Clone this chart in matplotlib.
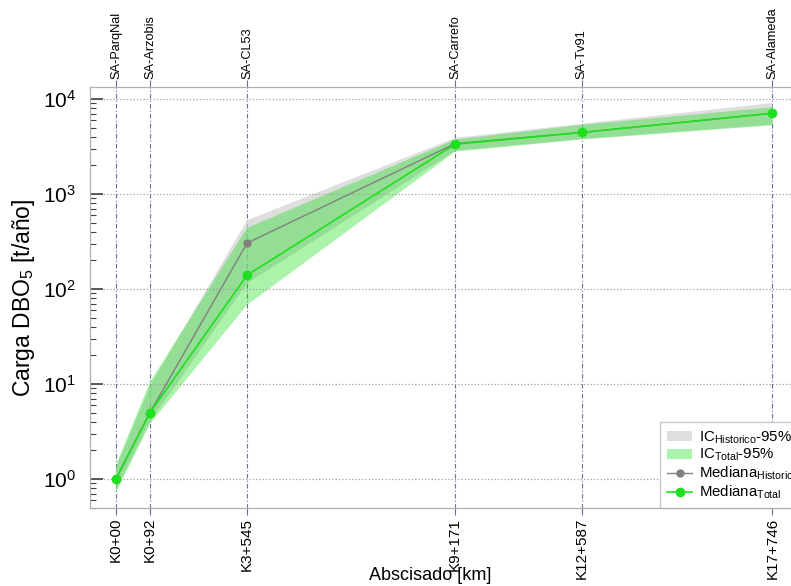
import matplotlib
matplotlib.use('Agg')
import matplotlib.pyplot as plt
from matplotlib.ticker import LogLocator, NullFormatter

plt.rcParams['font.family'] = ['Liberation Sans', 'DejaVu Sans']
plt.rcParams['mathtext.default'] = 'regular'

# estaciones de muestreo y abscisado del tramo
estaciones = ['SA-ParqNal', 'SA-Arzobis', 'SA-CL53', 'SA-Carrefo', 'SA-Tv91', 'SA-Alameda']
abscisas = ['K0+00', 'K0+92', 'K3+545', 'K9+171', 'K12+587', 'K17+746']
km = [0.0, 0.92, 3.545, 9.171, 12.587, 17.746]

# carga DBO5 [t/año]
med_total = [1.0, 5.0, 140, 3350, 4450, 7100]
med_hist = [1.0, 5.0, 305, 3400, 4450, 7100]
ic_total_inf = [0.72, 3.8, 68, 2800, 3750, 5300]
ic_total_sup = [1.4, 10.5, 440, 3750, 5350, 8200]
ic_hist_inf = [0.78, 4.0, 115, 2850, 3800, 5400]
ic_hist_sup = [1.3, 9.5, 530, 3900, 5500, 9100]

fig = plt.figure(figsize=(7.91, 5.86), dpi=100)
ax = fig.add_axes([0.1138, 0.1331, 0.8976, 0.7184])

lineas = '#6c6c9c'
estilo = (0, (4, 2, 1, 2))

h1 = ax.fill_between(km, ic_hist_inf, ic_hist_sup, facecolor='#d0d0d0', alpha=0.7,
                     edgecolor='none', label='IC$_{Historico}$-95%')
h3, = ax.plot(km, med_hist, color='#808080', lw=1, marker='o', ms=5,
              label='Mediana$_{Historico}$')
h2 = ax.fill_between(km, ic_total_inf, ic_total_sup, facecolor='#00dd00', alpha=0.33,
                     edgecolor='none', label='IC$_{Total}$-95%')
h4, = ax.plot(km, med_total, color='#1ee01e', lw=1.2, marker='o', ms=6,
              label='Mediana$_{Total}$')

for k in km:
    ax.axvline(k, color=lineas, lw=0.8, ls=estilo, zorder=0)

ax.set_yscale('log')
ax.set_ylim(0.495, 13400)
ax.set_xlim(-0.70, 18.49)
ax.yaxis.grid(True, which='major', ls=':', color='#a0a0a0', lw=0.9)

ax.yaxis.set_minor_locator(LogLocator(base=10, subs=range(2, 10)))
ax.yaxis.set_minor_formatter(NullFormatter())
ax.tick_params(axis='y', which='major', direction='in', length=9, width=1.2,
               color='#404040', labelsize=15, pad=10)
ax.tick_params(axis='y', which='minor', direction='in', length=4, width=0.8,
               color='#404040')

ax.set_xticks(km)
ax.set_xticklabels(abscisas, rotation=90)
ax.tick_params(axis='x', direction='out', length=5, color=lineas, labelsize=11, pad=2)

for s in ax.spines.values():
    s.set_color('#b0b0b0')

# estaciones en el eje superior
ax2 = ax.twiny()
ax2.set_xlim(ax.get_xlim())
ax2.set_xticks(km)
ax2.set_xticklabels(estaciones, rotation=90)
ax2.tick_params(axis='x', direction='out', length=5, color=lineas, labelsize=9.2, pad=1)
for s in ax2.spines.values():
    s.set_color('#b0b0b0')

ax.set_ylabel('Carga DBO$_5$ [t/año]', fontsize=16.5, labelpad=4)
ax.set_xlabel('Abscisado [km]', fontsize=13)
ax.xaxis.set_label_coords(0.479, -0.14)

leg = ax.legend(handles=[h1, h2, h3, h4], loc='lower left', bbox_to_anchor=(0.803, 0.0),
                borderaxespad=0, fontsize=10.8, fancybox=False, edgecolor='#c8c8c8',
                framealpha=1, handlelength=1.7, handletextpad=0.45, borderpad=0.45,
                labelspacing=0.1)

fig.savefig('out.png', dpi=100)
